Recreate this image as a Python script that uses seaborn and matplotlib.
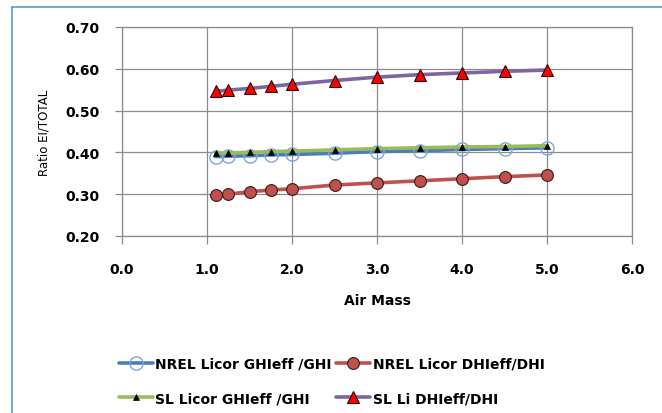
import matplotlib
matplotlib.use("Agg")
import matplotlib.pyplot as plt
import seaborn as sns
from matplotlib.lines import Line2D

air_mass = [1.1, 1.25, 1.5, 1.75, 2.0, 2.5, 3.0, 3.5, 4.0, 4.5, 5.0]
nrel_ghi = [0.390, 0.391, 0.392, 0.394, 0.395, 0.398, 0.402, 0.404, 0.407, 0.409, 0.411]
nrel_dhi = [0.298, 0.300, 0.306, 0.310, 0.313, 0.322, 0.327, 0.332, 0.337, 0.342, 0.346]
sl_ghi = [0.398, 0.399, 0.400, 0.402, 0.403, 0.406, 0.409, 0.411, 0.413, 0.414, 0.416]
sl_dhi = [0.546, 0.549, 0.553, 0.558, 0.563, 0.572, 0.580, 0.586, 0.590, 0.594, 0.597]

labels = ["NREL Licor GHIeff /GHI", "NREL Licor DHIeff/DHI",
          "SL Licor GHIeff /GHI", "SL Li DHIeff/DHI"]
x_ticks = [0.0, 1.0, 2.0, 3.0, 4.0, 5.0, 6.0]
y_ticks = [0.20, 0.30, 0.40, 0.50, 0.60, 0.70]

sns.set_style("white")
plt.rcParams['font.family'] = ['DejaVu Sans']
plt.rcParams['text.color'] = 'black'
plt.rcParams['axes.labelcolor'] = 'black'
plt.rcParams['xtick.color'] = 'black'
plt.rcParams['ytick.color'] = 'black'

W, H = 662, 414
fig = plt.figure(figsize=(W / 100, H / 100), dpi=100)
ax = fig.add_axes([122 / W, 1 - 237 / H, (632 - 122) / W, (237 - 28) / H])

sns.lineplot(x=air_mass, y=nrel_ghi, ax=ax, color="#4A7EBB", linewidth=2.6,
             marker="o", markersize=9.5, markerfacecolor="none",
             markeredgecolor="#7AA6DA", markeredgewidth=1.0, label=labels[0])
sns.lineplot(x=air_mass, y=nrel_dhi, ax=ax, color="#C0504D", linewidth=2.6,
             marker="o", markersize=8.5, markerfacecolor="#C0504D",
             markeredgecolor="#3A1A1A", markeredgewidth=0.8, label=labels[1])
sns.lineplot(x=air_mass, y=sl_ghi, ax=ax, color="#9BBB59", linewidth=2.6,
             marker="^", markersize=5, markerfacecolor="black",
             markeredgecolor="black", markeredgewidth=0.5, label=labels[2])
sns.lineplot(x=air_mass, y=sl_dhi, ax=ax, color="#8064A2", linewidth=2.6,
             marker="^", markersize=9, markerfacecolor="#FF0000",
             markeredgecolor="#2A0A0A", markeredgewidth=0.8, label=labels[3])

ax.set_xlim(0, 6)
ax.set_ylim(0.2, 0.7)
ax.set_xticks(x_ticks)
ax.set_yticks(y_ticks)
ax.set_xticklabels([f"{v:.1f}" for v in x_ticks], fontweight="bold", fontsize=10)
ax.set_yticklabels([f"{v:.2f}" for v in y_ticks], fontweight="bold", fontsize=10)
ax.grid(True, color="#8C8C8C", linewidth=0.9)
ax.set_axisbelow(True)
for s in ax.spines.values():
    s.set_color("#8C8C8C")
    s.set_linewidth(0.9)
ax.tick_params(axis="y", direction="out", length=5, width=0.9, color="#8C8C8C",
               labelcolor="black", pad=11, left=True)
ax.tick_params(axis="x", direction="out", length=5.5, width=0.9, color="#8C8C8C",
               labelcolor="black", pad=13.5, bottom=True)
ax.set_xlabel("Air Mass", fontweight="bold", fontsize=10, labelpad=12, color="black")
ax.set_ylabel("Ratio EI/TOTAL", fontsize=8.5, labelpad=11, color="black")

handles, labs = ax.get_legend_handles_labels()
ax.get_legend().remove()
order = [0, 2, 1, 3]
fig.legend([handles[i] for i in order], [labs[i] for i in order],
           loc="upper left", bbox_to_anchor=(112 / W, 1 - 351 / H),
           ncol=2, frameon=False, borderpad=0, handlelength=2.45,
           handletextpad=0.15, columnspacing=0.35, labelspacing=1.45,
           prop={"weight": "bold", "size": 10}, labelcolor="black")

border_c = "#4F8FCB"
fig.add_artist(Line2D([12 / W, 1.0], [1 - 7.5 / H, 1 - 7.5 / H], transform=fig.transFigure,
                      color=border_c, linewidth=1.1))
fig.add_artist(Line2D([12 / W, 12 / W], [0.0, 1 - 7.5 / H], transform=fig.transFigure,
                      color=border_c, linewidth=1.1))

fig.savefig("out.png", dpi=100)
